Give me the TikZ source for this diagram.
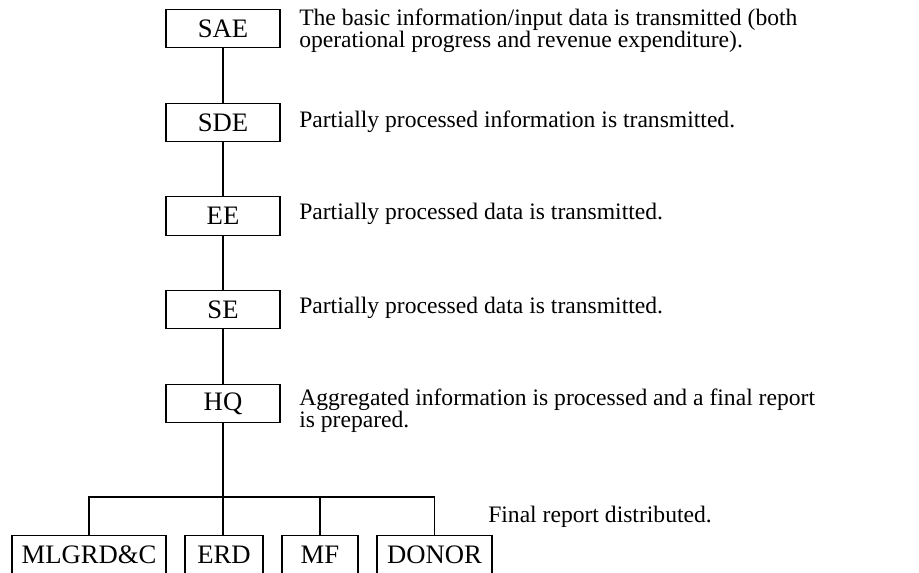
\documentclass[tikz,border=0pt]{standalone}
\usepackage{fontspec}
\setmainfont{Liberation Serif}
\begin{document}
\begin{tikzpicture}[x=0.75pt,y=-0.75pt,
  box/.style={draw, line width=0.8pt, inner sep=0pt, minimum height=29pt, font=\fontsize{20}{24}\selectfont},
  desc/.style={anchor=base west, inner sep=0pt, align=left, font=\fontsize{17.7}{16.2}\selectfont},
  conn/.style={line width=0.8pt}]
\useasboundingbox (0,0) rectangle (919,572);
\clip (0,0) rectangle (919,572);
% column boxes
\node[box, minimum width=85.5pt] (SAE) at (223,28.5) {SAE};
\node[box, minimum width=85.5pt] (SDE) at (223,122.5) {SDE};
\node[box, minimum width=85.5pt] (EE) at (223,216) {EE};
\node[box, minimum width=85.5pt] (SE) at (223,309.5) {SE};
\node[box, minimum width=85.5pt] (HQ) at (223,403.5) {HQ};
% bottom boxes
\node[box, minimum width=115.5pt] (MLG) at (89,554.5) {MLGRD\&C};
\node[box, minimum width=58.5pt] (ERD) at (224,554.5) {ERD};
\node[box, minimum width=57pt] (MF) at (320,554.5) {MF};
\node[box, minimum width=86.25pt] (DON) at (434.5,554.5) {DONOR};
\coordinate (bar) at (0,497);
% connectors
\draw[conn] (SAE) -- (SDE);
\draw[conn] (SDE) -- (EE);
\draw[conn] (EE) -- (SE);
\draw[conn] (SE) -- (HQ);
\draw[conn] (HQ.south) -- (HQ.south |- ERD.north);
\draw[conn] (MLG.north) -- (MLG.north |- bar) -| (DON.north);
\draw[conn] (MF.north) -- (MF.north |- bar);
% descriptions (base = baseline of last line)
\node[desc] (tSAE) at (299,47) {The basic information/input data is transmitted (both\\operational progress and revenue expenditure).};
\node[desc] (tSDE) at (299,127) {Partially processed information is transmitted.};
\node[desc] (tEE) at (299,219) {Partially processed data is transmitted.};
\node[desc] (tSE) at (299,313) {Partially processed data is transmitted.};
\node[desc] (tHQ) at (299,427) {Aggregated information is processed and a final report\\is prepared.};
\node[desc] (tFin) at (488,522) {Final report distributed.};
\end{tikzpicture}
\end{document}
